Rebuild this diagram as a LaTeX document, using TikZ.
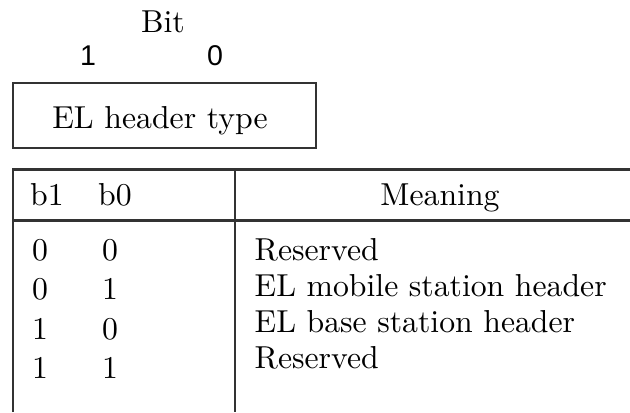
\documentclass[tikz,border=0pt]{standalone}
\usepackage{fontspec}
\newfontfamily\digitfont{Liberation Sans}
\begin{document}
\begin{tikzpicture}[x=0.315pt,y=-0.315pt,
  rule/.style={draw=black!80,line width=0.7pt},
  txt/.style={inner sep=0,font=\fontsize{10}{12}\selectfont},
  bitnum/.style={inner sep=0,font=\digitfont\fontsize{9}{10.8}\selectfont}]
\useasboundingbox (0,0) rectangle (630,412);

% bit numbering above the field
\node[txt,anchor=base] (bit) at (163,32) {Bit};
\node[bitnum,anchor=base] (n1) at (88,65) {1};
\node[bitnum,anchor=base] (n0) at (215,65) {0};

% the two-bit field
\draw[rule] (13,83) rectangle (316,148);
\node[txt,anchor=base] (eltype) at (160,128) {EL header type};

% table frame (open to the right and at the bottom)
\draw[rule] (13,412) -- (13,169.5) -- (630,169.5);
\draw[rule] (13,220.5) -- (630,220.5);
\draw[rule] (235,169.5) -- (235,412);

% header row
\node[txt,anchor=base] (hb1) at (47,205) {b1};
\node[txt,anchor=base] (hb0) at (115,205) {b0};
\node[txt,anchor=base] (hmean) at (440,205) {Meaning};

% bit values
\node[txt,anchor=base] (r1a) at (40,260) {0};
\node[txt,anchor=base] (r1b) at (110,260) {0};
\node[txt,anchor=base] (r2a) at (40,299) {0};
\node[txt,anchor=base] (r2b) at (110,299) {1};
\node[txt,anchor=base] (r3a) at (40,339) {1};
\node[txt,anchor=base] (r3b) at (110,339) {0};
\node[txt,anchor=base] (r4a) at (40,378) {1};
\node[txt,anchor=base] (r4b) at (110,378) {1};

% meanings
\node[txt,anchor=base west] (m1) at (254,260) {Reserved};
\node[txt,anchor=base west] (m2) at (254,296) {EL mobile station header};
\node[txt,anchor=base west] (m3) at (254,332) {EL base station header};
\node[txt,anchor=base west] (m4) at (254,368) {Reserved};
\end{tikzpicture}
\end{document}
